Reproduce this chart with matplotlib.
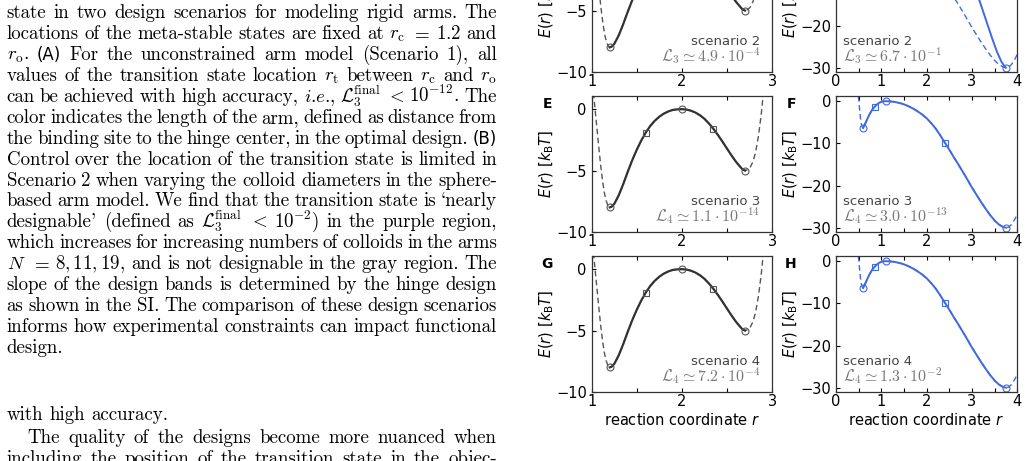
import numpy as np
import matplotlib
matplotlib.use('Agg')
import matplotlib.pyplot as plt

# target landscape, left column
r_left = [1.00, 1.02, 1.04, 1.06, 1.08, 1.10, 1.12, 1.14, 1.16, 1.18, 1.20,
          1.22, 1.25, 1.30, 1.35, 1.40, 1.45, 1.50, 1.55, 1.60, 1.65, 1.70,
          1.75, 1.80, 1.85, 1.90, 1.95, 2.00, 2.05, 2.10, 2.15, 2.20, 2.25,
          2.30, 2.35, 2.40, 2.45, 2.50, 2.55, 2.60, 2.65, 2.675, 2.70, 2.73,
          2.76, 2.79, 2.82, 2.85, 2.88, 2.91]
E_left = [2.8, 1.3, -0.2, -1.7, -3.2, -4.6, -5.8, -6.8, -7.45, -7.85, -8.0,
          -7.95, -7.72, -7.02, -6.10, -5.10, -4.15, -3.30, -2.55, -1.90, -1.36, -0.94,
          -0.61, -0.36, -0.18, -0.06, -0.01, 0.0, -0.03, -0.12, -0.27, -0.49, -0.78,
          -1.16, -1.60, -2.10, -2.64, -3.20, -3.76, -4.28, -4.72, -4.92, -5.0, -4.93,
          -4.71, -4.26, -3.44, -2.17, -0.45, 1.7]

# target landscape, right column
r_right = [0.49, 0.50, 0.52, 0.54, 0.56, 0.58, 0.60, 0.65, 0.70, 0.75, 0.80,
           0.85, 0.90, 0.95, 1.00, 1.05, 1.10, 1.20, 1.30, 1.40, 1.50, 1.60,
           1.70, 1.80, 1.90, 2.00, 2.10, 2.20, 2.30, 2.40, 2.50, 2.60, 2.70,
           2.80, 2.90, 3.00, 3.10, 3.20, 3.30, 3.40, 3.50, 3.60, 3.70, 3.75,
           3.80, 3.85, 3.90, 3.95, 4.00]
E_right = [1.2, 0.5, -1.9, -4.0, -5.4, -6.1, -6.35, -5.2, -4.0, -2.9, -2.0,
           -1.35, -0.8, -0.4, -0.15, -0.03, 0.0, -0.05, -0.19, -0.42, -0.75, -1.2,
           -1.75, -2.4, -3.15, -4.05, -5.2, -6.5, -8.1, -9.8, -11.5, -13.3, -15.0,
           -16.8, -18.6, -20.5, -22.2, -23.9, -25.5, -27.0, -28.3, -29.3, -29.9, -30.0,
           -29.9, -29.5, -28.8, -27.9, -26.8]

# design found in scenario 2, right column
r_d2 = [0.60, 0.80, 1.10, 1.50, 2.00, 2.50, 2.80, 3.00, 3.15, 3.25, 3.35,
        3.45, 3.55, 3.65, 3.72, 3.75]
E_d2 = [-6.35, -2.5, 0.0, -0.5, -1.5, -4.0, -7.0, -10.5, -13.6, -16.8, -20.0,
        -23.2, -26.2, -28.6, -29.7, -30.0]

# constraint points
left_circ_r = [1.2, 2.0, 2.7]
left_circ_E = [-8.0, 0.0, -5.0]
left_sq_r = [1.6, 2.35]
left_sq_E = [-1.95, -1.6]
right_circ_r = [0.6, 1.1, 3.75]
right_circ_E = [-6.35, 0.0, -30.0]
right_sq_r = [0.85, 2.4]
right_sq_E = [-1.35, -9.9]

scenarios = ['scenario 2', 'scenario 3', 'scenario 4']
loss_left = [r'$\mathcal{L}_3 \simeq 4.9\cdot 10^{-4}$',
             r'$\mathcal{L}_4 \simeq 1.1\cdot 10^{-14}$',
             r'$\mathcal{L}_4 \simeq 7.2\cdot 10^{-4}$']
loss_right = [r'$\mathcal{L}_3 \simeq 6.7\cdot 10^{-1}$',
              r'$\mathcal{L}_4 \simeq 3.0\cdot 10^{-13}$',
              r'$\mathcal{L}_4 \simeq 1.3\cdot 10^{-2}$']
letters = [('C', 'D'), ('E', 'F'), ('G', 'H')]

left_xticks = [1, 1.5, 2, 2.5, 3]
left_xlabels = ['1', '', '2', '', '3']
right_xticks = [0, 0.5, 1, 1.5, 2, 2.5, 3, 3.5, 4]
right_xlabels = ['0', '', '1', '', '2', '', '3', '', '4']
left_yticks = [0, -5, -10]
right_yticks = [0, -10, -20, -30]

caption = [
    "state in two design scenarios for modeling rigid arms. The",
    r"locations of the meta-stable states are fixed at $r_\mathrm{c}$ $=$ $1.2$ and",
    r"$r_\mathrm{o}$. §(A) For the unconstrained arm model (Scenario 1), all",
    r"values of the transition state location $r_\mathrm{t}$ between $r_\mathrm{c}$ and $r_\mathrm{o}$",
    r"can be achieved with high accuracy, $i$.$e$., $\mathcal{L}_3^\mathrm{final}$ $<$ $10^{-12}$. The",
    "color indicates the length of the arm, defined as distance from",
    "the binding site to the hinge center, in the optimal design. §(B)",
    "Control over the location of the transition state is limited in",
    "Scenario 2 when varying the colloid diameters in the sphere-",
    "based arm model. We find that the transition state is `nearly",
    r"designable' (defined as $\mathcal{L}_3^\mathrm{final}$ $<$ $10^{-2}$) in the purple region,",
    "which increases for increasing numbers of colloids in the arms",
    r"$N$ $=$ $8,11,19$, and is not designable in the gray region. The",
    "slope of the design bands is determined by the hinge design",
    "as shown in the SI. The comparison of these design scenarios",
    "informs how experimental constraints can impact functional",
    "design.",
]
caption2 = [
    "with high accuracy.",
    "The quality of the designs become more nuanced when",
    "including the position of the transition state in the objec-",
]

W, H = 1028, 461
fig = plt.figure(figsize=(W / 100, H / 100), dpi=100)
renderer = fig.canvas.get_renderer()
serif = ['cmr10', 'DejaVu Serif']
fs = 13.6


def put_line(line, ybase, x0=6.7, x1=497.0, justify=True):
    texts = []
    for tok in line.split(' '):
        if tok.startswith('§'):
            t = fig.text(0, 1 - ybase / H, tok[1:], family='DejaVu Sans',
                         fontsize=fs * 0.88, va='baseline')
        else:
            t = fig.text(0, 1 - ybase / H, tok, family=serif, math_fontfamily='cm',
                         fontsize=fs, va='baseline')
        texts.append(t)
    widths = [t.get_window_extent(renderer).width for t in texts]
    if justify and len(texts) > 1:
        gap = (x1 - x0 - sum(widths)) / (len(texts) - 1)
    else:
        gap = fs * 100 / 72 * 0.333
    x = x0
    for t, w in zip(texts, widths):
        t.set_x(x / W)
        x += w + gap


for i, line in enumerate(caption):
    put_line(line, 18.3 + 20.9 * i, justify=(i < len(caption) - 1))
put_line(caption2[0], 420.0, justify=False)
put_line(caption2[1], 443.3, x0=27.0)
put_line(caption2[2], 464.4)

# panels
col_x = [591.7, 836.0]
col_w = [180.3, 181.3]
row_top = [-64.3, 95.7, 255.7]
ax_h = 136.2
gray_solid = '#333333'
gray_dash = '#555555'
blue = '#4169e1'

rl = np.array(r_left)
El = np.array(E_left)
rr = np.array(r_right)
Er = np.array(E_right)
in_l = (rl >= 1.2) & (rl <= 2.7)
in_r = (rr >= 0.6) & (rr <= 3.75)

for row in range(3):
    for col in range(2):
        ax = fig.add_axes([col_x[col] / W, 1 - (row_top[row] + ax_h) / H,
                           col_w[col] / W, ax_h / H])
        if col == 0:
            ax.plot(rl, El, '--', color=gray_dash, lw=1.0, dashes=(4, 2.5))
            ax.plot(rl[in_l], El[in_l], '-', color=gray_solid, lw=1.6)
            ax.plot(left_circ_r, left_circ_E, 'o', ms=5, mfc='none', mec=gray_dash, mew=0.8)
            if row > 0:
                ax.plot(left_sq_r, left_sq_E, 's', ms=5, mfc='none', mec=gray_dash, mew=0.8)
            ax.set_xlim(1, 3)
            ax.set_ylim(-10, 1.1)
            ax.set_xticks(left_xticks)
            ax.set_xticklabels(left_xlabels)
            ax.set_yticks(left_yticks)
            ax.text(0.935, 0.22, scenarios[row], transform=ax.transAxes, ha='right',
                    va='center', fontsize=9.5, color='#444444')
            ax.text(0.935, 0.11, loss_left[row], transform=ax.transAxes, ha='right',
                    va='center', fontsize=11.5, color='#777777', math_fontfamily='cm')
        else:
            ax.plot(rr, Er, '--', color=blue, lw=1.0, dashes=(4, 2.5))
            if row == 0:
                ax.plot(r_d2, E_d2, '-', color=blue, lw=1.4)
            else:
                ax.plot(rr[in_r], Er[in_r], '-', color=blue, lw=1.4)
                ax.plot(right_sq_r, right_sq_E, 's', ms=5, mfc='none', mec=blue, mew=0.8)
            ax.plot(right_circ_r, right_circ_E, 'o', ms=5, mfc='none', mec=blue, mew=0.8)
            ax.set_xlim(0, 4)
            ax.set_ylim(-31, 1.3)
            ax.set_xticks(right_xticks)
            ax.set_xticklabels(right_xlabels)
            ax.set_yticks(right_yticks)
            ax.text(0.037, 0.22, scenarios[row], transform=ax.transAxes, ha='left',
                    va='center', fontsize=9.5, color='#444444')
            ax.text(0.037, 0.11, loss_right[row], transform=ax.transAxes, ha='left',
                    va='center', fontsize=11.5, color='#777777', math_fontfamily='cm')
        ax.tick_params(direction='in', top=True, labelsize=10.5, length=3, width=0.8,
                       colors='black')
        ax.tick_params(axis='x', pad=1.5)
        for s in ax.spines.values():
            s.set_color('#333333')
            s.set_linewidth(0.9)
        ax.set_ylabel(r'$E(r)$ [$k_\mathrm{B}T$]', fontsize=10.5, labelpad=0)
        if row == 2:
            ax.set_xlabel(r'reaction coordinate $r$', fontsize=10.5, labelpad=2)
        lx = 547 if col == 0 else 791
        fig.text(lx / W, 1 - (row_top[row] + 8) / H, letters[row][col],
                 fontsize=10, fontweight='bold', ha='center', va='center')

fig.savefig('out.png', dpi=100)
